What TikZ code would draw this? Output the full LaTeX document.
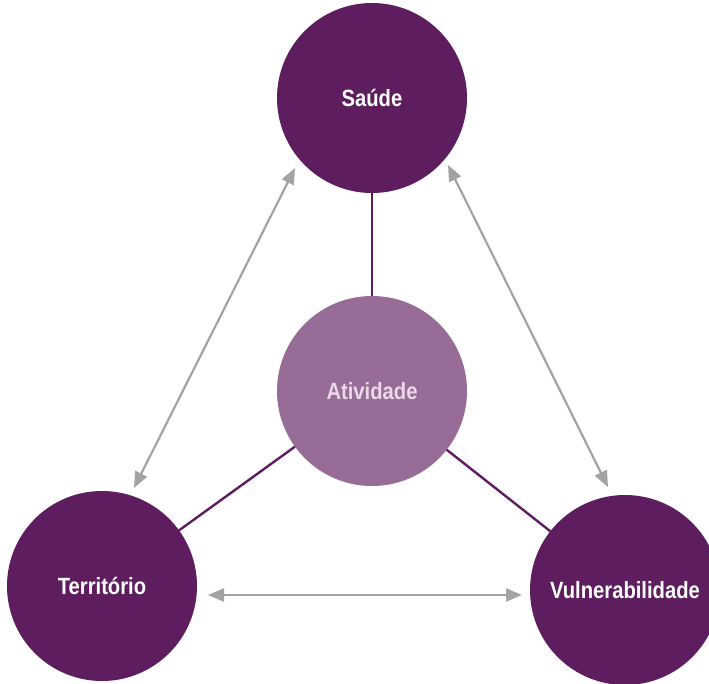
\documentclass[tikz,border=0pt]{standalone}
\usepackage{fontspec}
\setmainfont{Liberation Sans}[FakeStretch=0.86, BoldFont={Liberation Sans Bold}, BoldFeatures={FakeStretch=0.86}]
\usetikzlibrary{arrows.meta}
\definecolor{dpurple}{HTML}{5E1D5E}
\definecolor{lpurple}{HTML}{976C96}
\definecolor{ltext}{HTML}{EAD8E8}
\definecolor{agray}{HTML}{A3A3A3}
\tikzset{
  bubble/.style={circle, minimum size=190pt, inner sep=0pt, outer sep=0pt, text depth=0pt, fill=dpurple, text=white, font=\bfseries\fontsize{23.5}{26}\selectfont},
  link/.style={draw=dpurple, line width=2.4pt},
  twoway/.style={draw=agray, line width=2.2pt, {Triangle[length=16pt,width=13pt]}-{Triangle[length=16pt,width=13pt]}}
}
\begin{document}
\begin{tikzpicture}[x=1pt,y=-1pt]
\useasboundingbox (0,0) rectangle (709,683);
\clip (0,0) rectangle (709,683);
\node[bubble] (sa) at (372,98) {Saúde};
\node[bubble, fill=lpurple, text=ltext] (at) at (372,391) {Atividade};
\node[bubble] (te) at (102,586) {Território};
\node[bubble] (vu) at (625,590) {Vulnerabilidade};
\draw[link] (sa) -- (at);
\draw[link] (at) -- (te);
\draw[link] (at) -- (vu);
\coordinate (a1) at (295,168);
\coordinate (a2) at (134,488);
\coordinate (b1) at (448,165);
\coordinate (b2) at (608,487);
\coordinate (c1) at (208,595);
\coordinate (c2) at (522,595);
\draw[twoway] (a1) -- (a2);
\draw[twoway] (b1) -- (b2);
\draw[twoway] (c1) -- (c2);
\end{tikzpicture}
\end{document}
